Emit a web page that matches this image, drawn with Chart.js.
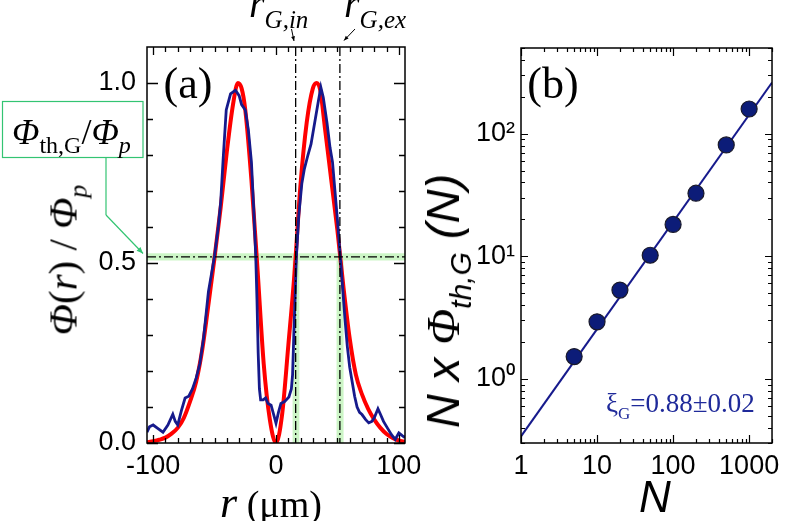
<!DOCTYPE html>
<html><head><meta charset="utf-8">
<script src="https://cdn.jsdelivr.net/npm/chart.js@4.4.1/dist/chart.umd.min.js"></script>
<style>
html,body{margin:0;padding:0;background:#fff;}
#wrap{position:relative;width:787px;height:521px;overflow:hidden;background:#fff;}
#ca{position:absolute;left:0;top:0;width:430px;height:521px;}
#cb{position:absolute;left:430px;top:0;width:357px;height:521px;}
.t{position:absolute;white-space:nowrap;line-height:1;color:#000;}
.serif{font-family:"Liberation Serif","Times New Roman",serif;}
.sans{font-family:"Liberation Sans",Arial,sans-serif;}
.it{font-style:italic;}
.rot{transform:translate(-50%,-50%) rotate(-90deg);}
.ctr{transform:translate(-50%,-50%);}
.sub{position:relative;}
</style></head><body>
<div id="wrap">
<canvas id="ca" width="430" height="521"></canvas>
<canvas id="cb" width="357" height="521"></canvas>

<div class="t serif ctr" style="left:188px;top:84px;font-size:44px;">(a)</div>
<div class="t serif ctr" style="left:553px;top:84px;font-size:44px;">(b)</div>

<div class="t serif it" style="left:249px;top:-16px;font-size:40px;">r<span class="sub" style="font-size:25px;top:11px;">G,in</span></div>
<div class="t serif it" style="left:344px;top:-16px;font-size:40px;">r<span class="sub" style="font-size:25px;top:11px;">G,ex</span></div>

<div class="t serif rot" style="left:63px;top:260px;font-size:41px;"><span class="it">Φ</span>(<span class="it">r</span>) / <span class="it">Φ</span><span class="sub it" style="font-size:26px;top:10px;">p</span></div>

<div class="t serif ctr" style="left:271px;top:503px;"><span class="it" style="font-size:44px;">r</span><span style="font-size:38px;"> (μm)</span></div>

<div class="t serif" style="left:12px;top:114px;font-size:36px;"><span class="it">Φ</span><span class="sub" style="font-size:24px;top:9px;">th,G</span>/<span class="it">Φ</span><span class="sub it" style="font-size:24px;top:9px;">p</span></div>

<div class="t sans it rot" style="left:443px;top:301px;font-size:47px;">N x <span class="serif">Φ</span><span class="sub" style="font-size:30px;top:12px;">th,G</span> (N)</div>

<div class="t sans it ctr" style="left:655px;top:497px;font-size:44px;">N</div>

<div class="t serif" style="left:606px;top:390px;font-size:27px;color:#1f2a9a;">ξ<span class="sub" style="font-size:17px;top:7px;">G</span>=0.88±0.02</div>
</div>

<script>
// ---------- Panel (a): radial fluence profiles ----------
const calcRadius = [-105,-100,-95,-90,-85,-80,-75,-70,-65,-60,-55,-50,-45,-40,-35,-31,-28,-25,-20,-15,-10,-5,0,5,10,15,20,25,30,33,36,40,45,50,55,60,65,70,75,80,85,90,95,100,105];
const calcProfile = [0.002,0.005,0.009,0.015,0.026,0.042,0.07,0.115,0.17,0.26,0.385,0.515,0.655,0.81,0.94,1.0,0.985,0.925,0.73,0.48,0.22,0.065,0.0,0.08,0.27,0.47,0.72,0.89,0.985,1.0,0.98,0.87,0.73,0.59,0.43,0.29,0.19,0.135,0.095,0.065,0.042,0.025,0.014,0.007,0.003];

const measRadius = [-105,-103,-100,-96,-92,-88,-84,-82,-80,-77,-74,-71,-68,-65,-62,-59,-55,-52,-50,-47,-45,-43,-40.5,-37,-33,-30,-28,-25,-22.5,-20,-18,-16.5,-15.5,-14.5,-13.5,-12.5,-10.5,-8.5,-6.5,-4,-2,0,2,4,7,10.5,12.5,13.5,14.5,15.5,16.5,18.5,21,23,26,28.5,32,34.5,36.5,38.5,41.5,44,46,48,50,52.5,54.5,56,58,60,62,64,66,68,70,73,75.5,78,80,83,85,87.5,91,94,97,100,103,105];
const measProfile = [0.03,0.045,0.05,0.04,0.03,0.05,0.08,0.06,0.05,0.09,0.125,0.13,0.15,0.18,0.22,0.29,0.42,0.48,0.52,0.6,0.67,0.79,0.925,0.97,0.98,0.965,0.94,0.925,0.87,0.78,0.64,0.52,0.4,0.25,0.15,0.12,0.12,0.125,0.11,0.105,0.08,0.055,0.085,0.11,0.115,0.128,0.15,0.19,0.3,0.4,0.51,0.63,0.72,0.76,0.8,0.83,0.9,0.95,0.988,0.96,0.89,0.82,0.78,0.7,0.62,0.51,0.42,0.35,0.27,0.21,0.17,0.13,0.1,0.085,0.079,0.065,0.056,0.06,0.07,0.095,0.08,0.06,0.04,0.023,0.01,0.028,0.02,0.015];

const xTickLabelsA = [-100, 0, 100];
const yTickLabelsA = [0, 0.5, 1.0];
const thresholdLevel = 0.517;
const thresholdBand = [0.507, 0.527];
const rGin = 16, rGex = 52;
const rGinBand = [13.5, 19];
const rGexBand = [49.3, 55];

// ---------- Panel (b): N x threshold fluence ----------
const pulses = [5, 10, 20, 50, 100, 200, 500, 1000];
const accumFluence = [1.52, 2.92, 5.3, 10.2, 18.2, 32.7, 81, 159];
const fitPulses = [1, 2000];
const fitFluence = [0.34, 261];
const xTickLabelsB = [1, 10, 100, 1000];
const yTickLabelsB = [1, 10, 100];
const supLabel = {1: '10\u2070', 10: '10\u00B9', 100: '10\u00B2'};

const NAVY = '#161a8c';
const TICKFONT = {family: '"Liberation Sans", Arial, sans-serif', size: 27};

function frame(ctx, a) {
  ctx.save();
  ctx.strokeStyle = '#000'; ctx.lineWidth = 1.5;
  ctx.strokeRect(a.left, a.top, a.right - a.left, a.bottom - a.top);
  ctx.restore();
}
function ticksX(ctx, a, scale, vals, len) {
  ctx.beginPath();
  for (const v of vals) {
    const p = Math.round(scale.getPixelForValue(v)) + 0.5;
    ctx.moveTo(p, a.bottom); ctx.lineTo(p, a.bottom - len);
    ctx.moveTo(p, a.top); ctx.lineTo(p, a.top + len);
  }
  ctx.stroke();
}
function ticksY(ctx, a, scale, vals, len) {
  ctx.beginPath();
  for (const v of vals) {
    const p = Math.round(scale.getPixelForValue(v)) + 0.5;
    ctx.moveTo(a.left, p); ctx.lineTo(a.left + len, p);
    ctx.moveTo(a.right, p); ctx.lineTo(a.right - len, p);
  }
  ctx.stroke();
}
function arrow(ctx, x0, y0, x1, y1, head) {
  ctx.beginPath(); ctx.moveTo(x0, y0); ctx.lineTo(x1, y1); ctx.stroke();
  const ang = Math.atan2(y1 - y0, x1 - x0);
  ctx.beginPath();
  ctx.moveTo(x1, y1);
  ctx.lineTo(x1 - head * Math.cos(ang - 0.4), y1 - head * Math.sin(ang - 0.4));
  ctx.lineTo(x1 - head * Math.cos(ang + 0.4), y1 - head * Math.sin(ang + 0.4));
  ctx.closePath(); ctx.fill();
}

const panelA = {
  id: 'panelA',
  beforeDatasetsDraw(chart) {
    const {ctx, chartArea: a, scales: {x, y}} = chart;
    ctx.save();
    ctx.fillStyle = 'rgba(170,238,160,0.6)';
    const yb1 = y.getPixelForValue(thresholdBand[1]);
    const yb0 = y.getPixelForValue(thresholdBand[0]);
    ctx.fillRect(a.left, yb1, a.right - a.left, yb0 - yb1);
    for (const b of [rGinBand, rGexBand]) {
      const x0 = x.getPixelForValue(b[0]), x1 = x.getPixelForValue(b[1]);
      ctx.fillRect(x0, yb0, x1 - x0, y.getPixelForValue(0) - yb0);
    }
    ctx.restore();
  },
  afterDatasetsDraw(chart) {
    const {ctx, chartArea: a, scales: {x, y}} = chart;
    ctx.save();
    ctx.strokeStyle = '#000'; ctx.lineWidth = 1.3; ctx.setLineDash([9, 3, 2, 3]);
    const yl = y.getPixelForValue(thresholdLevel);
    ctx.beginPath(); ctx.moveTo(a.left, yl); ctx.lineTo(a.right, yl); ctx.stroke();
    for (const r of [rGin, rGex]) {
      const px = x.getPixelForValue(r);
      ctx.beginPath(); ctx.moveTo(px, a.top); ctx.lineTo(px, a.bottom); ctx.stroke();
    }
    ctx.setLineDash([]);
    frame(ctx, a);
    ctx.strokeStyle = '#000'; ctx.lineWidth = 1.3;
    const xMinor = [], yMinor = [];
    for (let v = -90; v <= 90; v += 10) if (v !== 0) xMinor.push(v);
    for (let k = 1; k <= 10; k++) if (k !== 5 && k !== 10) yMinor.push(k / 10);
    ticksX(ctx, a, x, xMinor, 5);
    ticksX(ctx, a, x, xTickLabelsA, 8);
    ticksY(ctx, a, y, yMinor, 6);
    ticksY(ctx, a, y, yTickLabelsA, 11);
    ctx.fillStyle = '#000'; ctx.lineWidth = 1;
    arrow(ctx, 291.5, 29, 294, 41, 5);
    arrow(ctx, 355, 29, 344, 40.5, 5);
    ctx.strokeStyle = '#33c472'; ctx.fillStyle = '#33c472'; ctx.lineWidth = 1.2;
    ctx.strokeRect(2.5, 101.5, 140.5, 56);
    ctx.beginPath(); ctx.moveTo(106, 157.5); ctx.lineTo(106, 215); ctx.stroke();
    arrow(ctx, 106, 215, 143, 253.5, 7);
    ctx.restore();
  }
};

const panelB = {
  id: 'panelB',
  afterDatasetsDraw(chart) {
    const {ctx, chartArea: a, scales: {x, y}} = chart;
    ctx.save();
    frame(ctx, a);
    ctx.strokeStyle = '#000'; ctx.lineWidth = 1.2;
    const xMinor = [], yMinor = [];
    for (const d of [1, 10, 100, 1000]) for (let k = 2; k <= 9; k++) if (k * d <= 2000) xMinor.push(k * d);
    for (const d of [0.1, 1, 10, 100]) for (let k = 2; k <= 9; k++) { const v = k * d; if (v >= 0.3 && v <= 500) yMinor.push(v); }
    ticksX(ctx, a, x, xMinor, 4);
    ticksX(ctx, a, x, xTickLabelsB, 8);
    ticksY(ctx, a, y, yMinor, 4);
    ticksY(ctx, a, y, yTickLabelsB, 7);
    ctx.restore();
  }
};

new Chart(document.getElementById('ca'), {
  type: 'line',
  data: {
    datasets: [
      {data: measRadius.map((r, i) => ({x: r, y: measProfile[i]})), borderColor: NAVY, borderWidth: 2.8, pointRadius: 0, tension: 0},
      {data: calcRadius.map((r, i) => ({x: r, y: calcProfile[i]})), borderColor: '#ff0000', borderWidth: 4, pointRadius: 0, cubicInterpolationMode: 'monotone'}
    ]
  },
  options: {
    responsive: false, animation: false, devicePixelRatio: 1,
    layout: {padding: {left: 0, right: 25, top: 47, bottom: 38}},
    plugins: {legend: {display: false}, tooltip: {enabled: false}},
    scales: {
      x: {type: 'linear', min: -105, max: 105,
        afterBuildTicks: s => { s.ticks = xTickLabelsA.map(v => ({value: v})); },
        afterFit: s => { s.height = 40; },
        grid: {display: false, drawTicks: false}, border: {display: false},
        ticks: {font: TICKFONT, color: '#000', padding: 7, maxRotation: 0, autoSkip: false, callback: v => String(v)}},
      y: {type: 'linear', min: 0, max: 1.1,
        afterBuildTicks: s => { s.ticks = yTickLabelsA.map(v => ({value: v})); },
        afterFit: s => { s.width = 147; },
        grid: {display: false, drawTicks: false}, border: {display: false},
        ticks: {font: TICKFONT, color: '#000', padding: 11, autoSkip: false, callback: v => Number(v).toFixed(1)}}
    }
  },
  plugins: [panelA]
});

new Chart(document.getElementById('cb'), {
  type: 'scatter',
  data: {
    datasets: [
      {data: pulses.map((n, i) => ({x: n, y: accumFluence[i]})), backgroundColor: '#0c1c78', borderColor: '#1a1a2a', borderWidth: 1.2, pointRadius: 8, showLine: false},
      {data: fitPulses.map((n, i) => ({x: n, y: fitFluence[i]})), borderColor: NAVY, borderWidth: 2, pointRadius: 0, showLine: true}
    ]
  },
  options: {
    responsive: false, animation: false, devicePixelRatio: 1,
    layout: {padding: {left: 0, right: 8, top: 48, bottom: 38}},
    plugins: {legend: {display: false}, tooltip: {enabled: false}},
    scales: {
      x: {type: 'logarithmic', min: 1, max: 2000,
        afterBuildTicks: s => { s.ticks = xTickLabelsB.map(v => ({value: v})); },
        afterFit: s => { s.height = 40; },
        grid: {display: false, drawTicks: false}, border: {display: false},
        ticks: {font: TICKFONT, color: '#000', padding: 7, maxRotation: 0, autoSkip: false, callback: v => String(v)}},
      y: {type: 'logarithmic', min: 0.3, max: 500,
        afterBuildTicks: s => { s.ticks = yTickLabelsB.map(v => ({value: v})); },
        afterFit: s => { s.width = 91; },
        grid: {display: false, drawTicks: false}, border: {display: false},
        ticks: {font: TICKFONT, color: '#000', padding: 6, autoSkip: false, callback: v => supLabel[v]}}
    }
  },
  plugins: [panelB]
});
</script>
</body></html>
